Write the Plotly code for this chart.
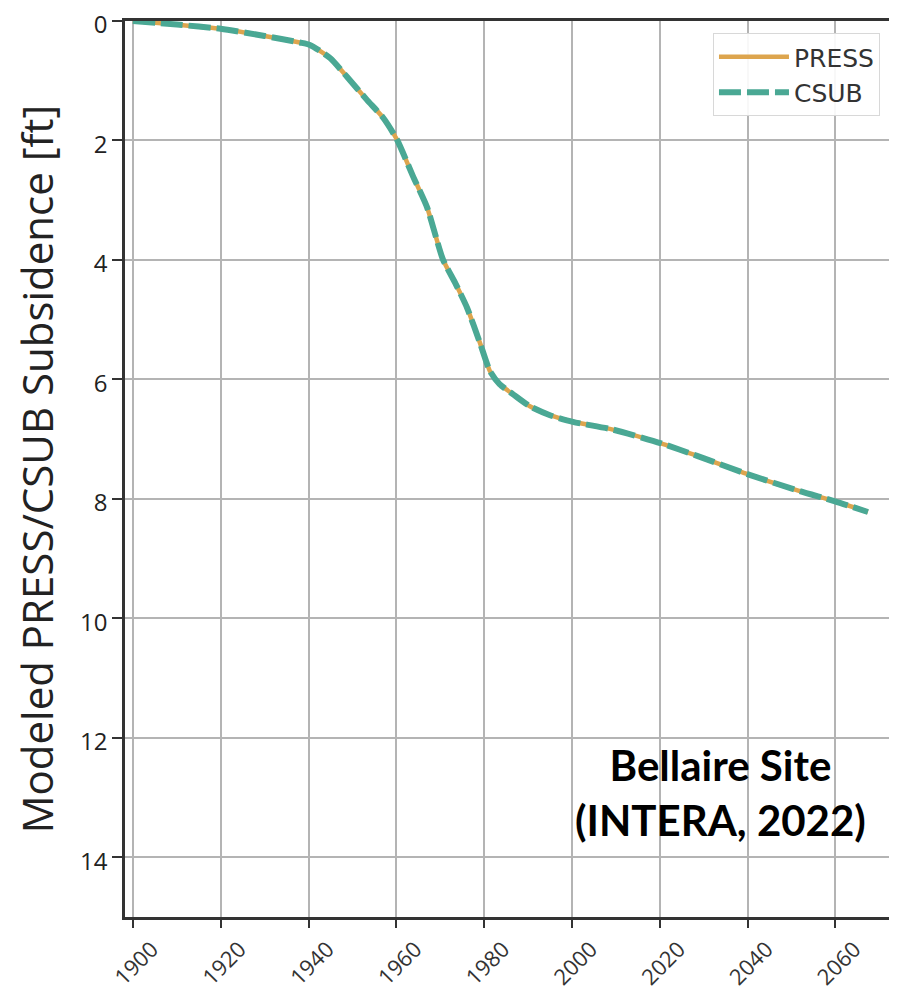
import plotly.graph_objects as go

years = [1900, 1910, 1920, 1930, 1938, 1940.3, 1944.9, 1948.7, 1953.3, 1957, 1960.1, 1963.8, 1967.0,
         1970.6, 1973.5, 1976.1, 1979.0, 1981.3, 1983.5, 1986.6, 1990.4, 1995, 2000.2, 2009.3,
         2020.3, 2028.5, 2040.1, 2051.9, 2059.9, 2067.4]
press = [0.0, 0.06, 0.13, 0.25, 0.36, 0.40, 0.62, 0.93, 1.32, 1.62, 1.98, 2.60, 3.12,
         3.99, 4.40, 4.80, 5.38, 5.86, 6.08, 6.25, 6.45, 6.60, 6.71, 6.84,
         7.07, 7.28, 7.59, 7.87, 8.04, 8.22]
csub = [0.0, 0.06, 0.13, 0.25, 0.36, 0.40, 0.62, 0.93, 1.32, 1.62, 1.98, 2.60, 3.12,
        3.99, 4.40, 4.80, 5.38, 5.86, 6.08, 6.25, 6.45, 6.60, 6.71, 6.84,
        7.07, 7.28, 7.59, 7.87, 8.04, 8.22]

x_ticks = [1900, 1920, 1940, 1960, 1980, 2000, 2020, 2040, 2060]
y_ticks = [0, 2, 4, 6, 8, 10, 12, 14]

fig = go.Figure()
fig.add_trace(go.Scatter(x=years, y=press, mode="lines", name="PRESS",
                         line=dict(color="#DDA54E", width=4.5, shape="spline", smoothing=0.6)))
fig.add_trace(go.Scatter(x=years, y=csub, mode="lines", name="CSUB",
                         line=dict(color="#4AA894", width=6, dash="22px,6px", shape="spline", smoothing=0.6)))

fig.add_annotation(x=0.780, y=0.139, xref="paper", yref="paper",
                   text="<b>Bellaire Site<br>(INTERA, 2022)</b>", showarrow=False,
                   font=dict(family="Lato", size=42, color="black"), align="center",
                   xanchor="center", yanchor="middle")

fig.update_layout(
    width=881, height=983,
    margin=dict(l=117, r=0, t=13, b=74, autoexpand=False),
    plot_bgcolor="white", paper_bgcolor="white",
    font=dict(family="Open Sans", color="#222222"),
    showlegend=True,
    legend=dict(x=0.7696, y=0.9866, xanchor="left", yanchor="top",
                bgcolor="rgba(255,255,255,0.9)", bordercolor="#d8d8d8", borderwidth=1,
                font=dict(family="DejaVu Sans", size=25, color="#333333"),
                itemwidth=70),
)
fig.update_xaxes(range=[1898.2, 2072.2], tickvals=x_ticks, ticktext=[str(v) for v in x_ticks],
                 tickangle=-45, tickfont=dict(size=22, family="Open Sans", color="#333333"),
                 showgrid=True, gridcolor="#b4b4b4", gridwidth=1.5,
                 showline=True, linecolor="#333333", linewidth=2.5, mirror=True,
                 ticks="outside", ticklen=8, tickwidth=2, tickcolor="#333333",
                 ticklabelshift=19, ticklabelstandoff=0, zeroline=False, automargin=False,
                 ticklabeloverflow="allow")
fig.update_yaxes(range=[15, 0], tickvals=y_ticks, ticktext=[str(v) for v in y_ticks],
                 tickfont=dict(size=24, family="Open Sans", color="#222222"),
                 showgrid=True, gridcolor="#b4b4b4", gridwidth=1.5,
                 showline=True, linecolor="#333333", linewidth=2.5, mirror=False,
                 ticks="outside", ticklen=10, tickwidth=2, tickcolor="#333333",
                 zeroline=False, automargin=False, ticklabeloverflow="allow",
                 ticklabelshift=-4,
                 title=dict(text="Modeled PRESS/CSUB Subsidence [ft]",
                            font=dict(size=42, family="Open Sans", color="#222222"),
                            standoff=14))

fig.write_html("out.html")
